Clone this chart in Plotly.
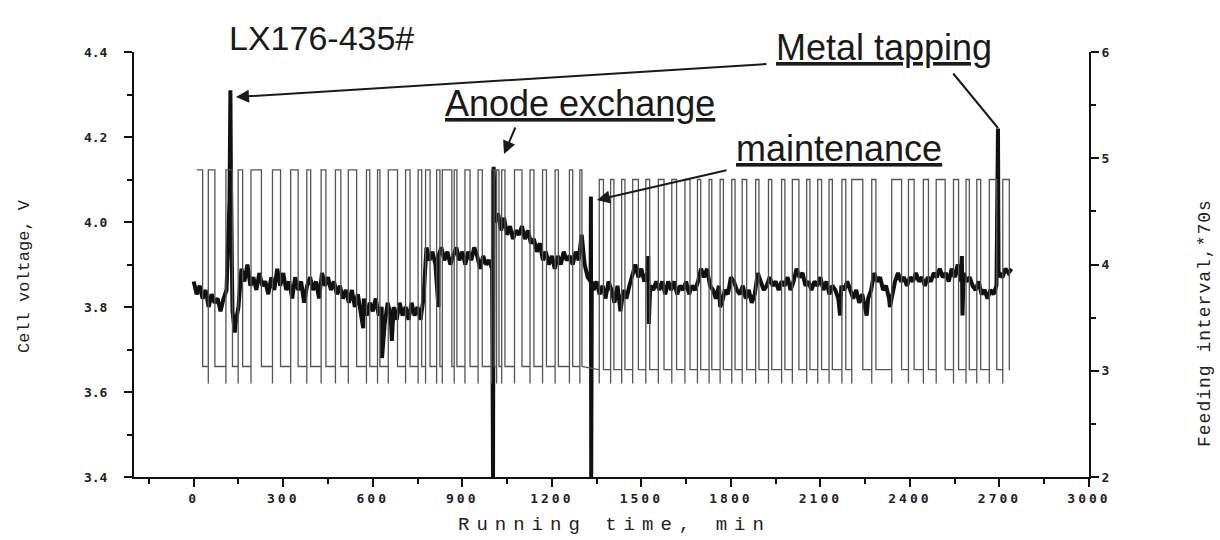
import plotly.graph_objects as go

# ---------------- data ----------------
volt_start = 0
volt_step = 10
voltage = [
    3.86, 3.83, 3.85, 3.82, 3.84, 3.80, 3.83, 3.81, 3.82, 3.79,
    3.82, 3.84, 4.05, 3.79, 3.76, 3.80, 3.89, 3.86, 3.90, 3.85,
    3.87, 3.84, 3.88, 3.85, 3.86, 3.83, 3.87, 3.84, 3.89, 3.85,
    3.88, 3.84, 3.86, 3.82, 3.87, 3.84, 3.86, 3.81, 3.85, 3.87,
    3.84, 3.86, 3.82, 3.88, 3.85, 3.87, 3.84, 3.86, 3.83, 3.85,
    3.82, 3.84, 3.81, 3.84, 3.80, 3.83, 3.79, 3.82, 3.78, 3.81,
    3.79, 3.82, 3.78, 3.80, 3.76, 3.81, 3.78, 3.80, 3.77, 3.81,
    3.78, 3.80, 3.77, 3.81, 3.78, 3.80, 3.77, 3.82, 3.94, 3.91,
    3.93, 3.90, 3.92, 3.94, 3.91, 3.93, 3.90, 3.92, 3.94, 3.91,
    3.93, 3.90, 3.93, 3.91, 3.94, 3.92, 3.89, 3.92, 3.90, 3.91,
    3.89, 4.00, 4.02, 3.98, 4.01, 3.97, 3.99, 3.96, 3.98, 3.97,
    3.99, 3.96, 3.98, 3.95, 3.96, 3.93, 3.95, 3.91, 3.93, 3.90,
    3.92, 3.89, 3.92, 3.90, 3.93, 3.91, 3.92, 3.90, 3.93, 3.91,
    3.97, 3.90, 3.87, 3.86, 3.84, 3.86, 3.83, 3.85, 3.82, 3.86,
    3.84, 3.81, 3.85, 3.79, 3.84, 3.82, 3.85, 3.88, 3.90, 3.87,
    3.89, 3.86, 3.88, 3.85, 3.84, 3.86, 3.84, 3.86, 3.83, 3.86,
    3.84, 3.86, 3.83, 3.85, 3.84, 3.86, 3.83, 3.85, 3.84, 3.86,
    3.89, 3.87, 3.89, 3.85, 3.84, 3.82, 3.85, 3.81, 3.84, 3.83,
    3.87, 3.86, 3.84, 3.83, 3.85, 3.82, 3.84, 3.81, 3.83, 3.88,
    3.86, 3.84, 3.85, 3.87, 3.85, 3.86, 3.84, 3.86, 3.85, 3.87,
    3.84, 3.86, 3.89, 3.87, 3.88, 3.85, 3.86, 3.84, 3.86, 3.85,
    3.87, 3.84, 3.86, 3.83, 3.85, 3.84, 3.82, 3.85, 3.84, 3.86,
    3.84, 3.82, 3.84, 3.81, 3.83, 3.80, 3.82, 3.84, 3.88, 3.86,
    3.87, 3.84, 3.85, 3.82, 3.83, 3.86, 3.88, 3.86, 3.87, 3.85,
    3.87, 3.86, 3.88, 3.86, 3.87, 3.85, 3.87, 3.86, 3.88, 3.87,
    3.89, 3.87, 3.88, 3.86, 3.89, 3.87, 3.90, 3.86, 3.88, 3.86,
    3.87, 3.85, 3.84, 3.86, 3.83, 3.84, 3.82, 3.84, 3.83, 3.85,
    3.88, 3.87, 3.89, 3.88, 3.89,
]
# individual spikes of the voltage trace (metal tapping, anode exchange, maintenance...)
event_time = [123, 125, 138, 568, 631, 664, 820, 1003, 1005, 1331, 1332, 1334,
              1523, 1525, 1764, 2166, 2255, 2333, 2574, 2576, 2695, 2697]
event_volt = [4.31, 4.08, 3.74, 3.75, 3.68, 3.72, 3.80, 3.40, 4.13, 4.06, 3.40, 3.86,
              3.92, 3.76, 3.80, 3.78, 3.78, 3.80, 3.92, 3.78, 4.22, 3.87]

# feeding interval: periods at the long interval (start, end) in min
feed_high_start = [10, 49, 108, 149, 192, 264, 325, 379, 427, 475, 518,
                   579, 616, 652, 710, 752, 777, 814, 833, 873, 909, 953, 998, 1015, 1032, 1075,
                   1127, 1169, 1211, 1259, 1294,
                   1359, 1397, 1434, 1471, 1515, 1557, 1602, 1646,
                   1688, 1727, 1764, 1803, 1838, 1883, 1926, 1970, 2006, 2054, 2091, 2129, 2172, 2205,
                   2272, 2339, 2395, 2445, 2488, 2546, 2588, 2624, 2666, 2711]
feed_high_end = [30, 71, 130, 164, 227, 291, 350, 392, 443, 493, 546,
                 590, 624, 683, 725, 764, 792, 825, 865, 882, 926, 967, 1007, 1023, 1043, 1100,
                 1140, 1182, 1222, 1270, 1301,
                 1373, 1408, 1445, 1490, 1528, 1576, 1618, 1663,
                 1699, 1736, 1775, 1814, 1853, 1894, 1937, 1981, 2028, 2065, 2104, 2140, 2185, 2242,
                 2286, 2372, 2414, 2462, 2518, 2563, 2599, 2637, 2691, 2733]
feed_end_time = 2736
feed_level_change = 1330          # min, level shift after maintenance
feed_high_levels = [4.89, 4.80]   # before / after
feed_low_levels = [3.04, 3.01]
feed_dip = 2.88

x_tickvals = [0, 300, 600, 900, 1200, 1500, 1800, 2100, 2400, 2700, 3000]
y_tickvals = [3.4, 3.6, 3.8, 4.0, 4.2, 4.4]
y_ticktext = ["3.4", "3.6", "3.8", "4.0", "4.2", "4.4"]
y2_tickvals = [2, 3, 4, 5, 6]

# ---------------- build series ----------------
base_t = [volt_start + i * volt_step for i in range(len(voltage))]
pts = sorted(list(zip(base_t, voltage)) + list(zip(event_time, event_volt)))
vt = [p[0] for p in pts]
vv = [p[1] for p in pts]

ft, fv = [], []
for k, (s, e) in enumerate(zip(feed_high_start, feed_high_end)):
    idx = 0 if s < feed_level_change else 1
    hi, lo = feed_high_levels[idx], feed_low_levels[idx]
    if k > 0:
        ft += [s, s]
        fv += [lo, feed_dip]
    ft += [s, e, e]
    fv += [hi, hi, lo]
ft.append(feed_end_time)
fv.append(feed_low_levels[1])

# ---------------- figure ----------------
L, R, T, B = 134, 1089, 52, 477
W, H = 1220, 540


def px(x):
    return (x - L) / (R - L)


def py(y):
    return (B - y) / (B - T)


fig = go.Figure()
fig.add_trace(go.Scatter(x=ft, y=fv, mode="lines", yaxis="y2",
                         line=dict(color="#555555", width=1.3), showlegend=False))
fig.add_trace(go.Scatter(x=vt, y=vv, mode="lines",
                         line=dict(color="#111111", width=4), showlegend=False))

tickfont = dict(family="DejaVu Sans Mono", size=13, color="#222222", weight="bold")
axis_common = dict(showgrid=False, zeroline=False, showline=True, linecolor="#111111",
                   linewidth=2, ticks="outside", ticklen=8, tickwidth=1.5, tickcolor="#111111",
                   tickfont=tickfont)

fig.update_layout(
    width=W, height=H, autosize=False,
    margin=dict(l=L, r=W - R, t=T, b=H - B),
    paper_bgcolor="white", plot_bgcolor="white",
    xaxis=dict(range=[-200, 3000], tickvals=x_tickvals,
               ticktext=["<span style='letter-spacing:3px'>%d</span>" % v for v in x_tickvals],
               minor=dict(dtick=150, tick0=0, ticks="outside", ticklen=5, tickcolor="#111111"),
               **axis_common),
    yaxis=dict(range=[3.4, 4.4], tickvals=y_tickvals, ticktext=y_ticktext,
               ticklabelstandoff=14,
               minor=dict(dtick=0.1, tick0=3.4, ticks="outside", ticklen=5, tickcolor="#111111"),
               **axis_common),
    yaxis2=dict(range=[2, 6], tickvals=y2_tickvals, overlaying="y", side="right",
                minor=dict(dtick=0.5, tick0=2, ticks="outside", ticklen=5, tickcolor="#111111"),
                **axis_common),
)

ann = []
txt_font = dict(family="Liberation Sans", size=36, color="#1a1a1a")
ann.append(dict(text="LX176-435#", x=px(321), y=py(38), font=dict(family="Liberation Sans", size=34, color="#1a1a1a")))
ann.append(dict(text="<u>Metal tapping</u>", x=px(884), y=py(47), font=txt_font))
ann.append(dict(text="<u>Anode exchange</u>", x=px(580), y=py(103), font=txt_font))
ann.append(dict(text="<u>maintenance</u>", x=px(839), y=py(148), font=txt_font))
for a in ann:
    a.update(xref="paper", yref="paper", showarrow=False, xanchor="center", yanchor="middle")

# arrows: (head x, head y, tail x, tail y) in pixels
arrows = [(236, 97, 768, 64, 2), (998, 128, 952, 72, 0), (504, 154, 516, 126, 2), (597, 200, 728, 170, 2)]
for hx, hy, tx, ty, head in arrows:
    ann.append(dict(text="", x=px(hx), y=py(hy), xref="paper", yref="paper",
                    ax=tx - hx, ay=ty - hy, axref="pixel", ayref="pixel",
                    showarrow=True, arrowhead=head, arrowsize=1.3, arrowwidth=2,
                    arrowcolor="#1a1a1a", standoff=0, startstandoff=0))

mono = "Liberation Mono"
ann.append(dict(text="<span style='letter-spacing:7px'>Running time, min</span>",
                x=px(614), y=py(525), xref="paper", yref="paper", showarrow=False,
                font=dict(family=mono, size=19, color="#222222"), xanchor="center", yanchor="middle"))
ann.append(dict(text="Cell voltage, V", x=px(24), y=py(276), xref="paper", yref="paper",
                showarrow=False, textangle=-90,
                font=dict(family=mono, size=17, color="#222222"), xanchor="center", yanchor="middle"))
ann.append(dict(text="<span style='letter-spacing:1px'>Feeding interval,*70s</span>",
                x=px(1205), y=py(323), xref="paper", yref="paper",
                showarrow=False, textangle=-90,
                font=dict(family=mono, size=18, color="#222222"), xanchor="center", yanchor="middle"))

fig.update_layout(annotations=ann)
fig.write_html("out.html")
